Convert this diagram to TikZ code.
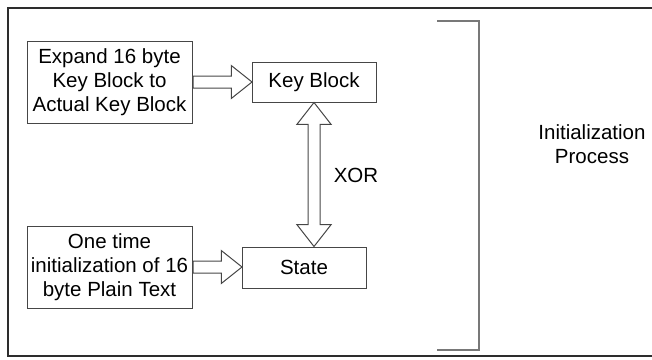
\documentclass[tikz,border=0pt]{standalone}
\usepackage{fontspec}
\setmainfont{Liberation Sans}
\usetikzlibrary{shapes.arrows, calc, positioning}
\definecolor{LineGray}{RGB}{70,70,70}
\definecolor{FrameGray}{RGB}{45,45,45}
\definecolor{BracketGray}{RGB}{120,120,120}

\tikzset{
  box/.style={draw=LineGray, line width=1pt, align=center, inner sep=0pt},
  fatarrow/.style={single arrow, draw=LineGray, line width=1pt, inner sep=0pt,
    text height=5.5pt, text depth=5.5pt, text width=0pt,
    single arrow head extend=10.5pt, single arrow tip angle=77},
  fatdarrow/.style={double arrow, draw=LineGray, line width=1pt, inner sep=0pt,
    text height=5.5pt, text depth=5.5pt, text width=0pt,
    double arrow head extend=11pt, double arrow tip angle=76},
}

\begin{document}
\begin{tikzpicture}[x=1pt, y=-1pt, font=\fontsize{20.5pt}{24pt}\selectfont]
        \useasboundingbox (0,0) rectangle (652,359);
        \clip (0,0) rectangle (652,359);
        \draw[FrameGray, line width=2pt] (8,8) rectangle (680,356);
        % boxes
        \node[box, minimum width=165pt, minimum height=82pt] (expand) at (109.5,82) {Expand 16 byte\\Key Block to\\Actual Key Block};
        \node[box, minimum width=124pt, minimum height=40pt] (keyblock) at (314,82) {Key Block};
        \node[box, minimum width=165pt, minimum height=82pt] (onetime) at (109.5,267) {One time\\initialization of 16\\byte Plain Text};
        \node[box, minimum width=124pt, minimum height=41pt] (state) at (304,267.5) {State};
        % block arrows
        \path let \p1=($(keyblock.west)-(expand.east)$) in
            node[fatarrow, minimum height=\x1, anchor=tail] (a1) at (expand.east) {};
        \path let \p1=($(state.west)-(onetime.east)$) in
            node[fatarrow, minimum height=\x1, anchor=tail] (a2) at (onetime.east) {};
        \coordinate (xtop) at (keyblock.south);
        \coordinate (xbot) at (keyblock.south |- state.north);
        \path let \p1=($(xtop)-(xbot)$), \n1={veclen(\x1,\y1)} in
            node[fatdarrow, rotate=90, minimum height=\n1] (a3) at ($(xtop)!0.5!(xbot)$) {};
        \node (xor) at (356,175) {XOR};
        % bracket
        \draw[BracketGray, line width=1.2pt] (437,21) -- (479,21) -- (479,350) -- (437,350);
        \node[align=center] (process) at (592,144) {Initialization\\Process};
    \end{tikzpicture}
\end{document}
